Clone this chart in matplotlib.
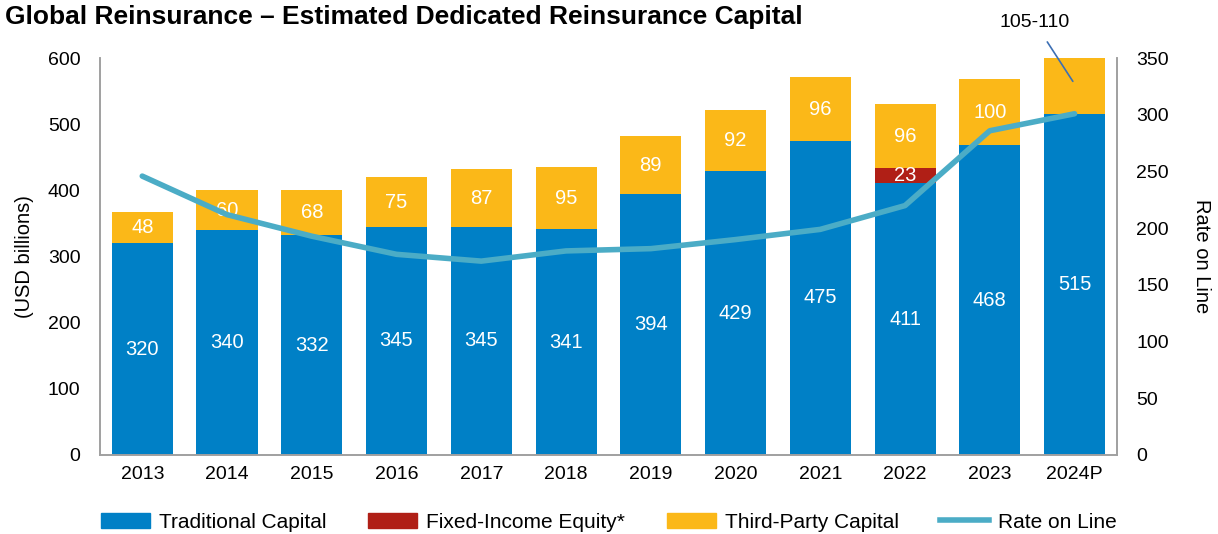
import matplotlib
matplotlib.use("Agg")
import matplotlib.pyplot as plt
import numpy as np
from matplotlib.patches import Patch
from matplotlib.lines import Line2D

plt.rcParams['font.family'] = ['Liberation Sans', 'DejaVu Sans']

years = ["2013", "2014", "2015", "2016", "2017", "2018", "2019", "2020", "2021", "2022", "2023", "2024P"]
traditional = [320, 340, 332, 345, 345, 341, 394, 429, 475, 411, 468, 515]
fixed_income = [0, 0, 0, 0, 0, 0, 0, 0, 0, 23, 0, 0]
third_party = [48, 60, 68, 75, 87, 95, 89, 92, 96, 96, 100, 85]
third_party_labels = ["48", "60", "68", "75", "87", "95", "89", "92", "96", "96", "100", ""]
rate_on_line = [246, 212, 193, 177, 171, 180, 182, 190, 199, 220, 286, 301]

c_blue = "#0080C6"
c_red = "#B01F16"
c_yellow = "#FBB818"
c_line = "#4BACC6"

fig = plt.figure(figsize=(12.18, 5.34), dpi=100)
ax = fig.add_axes([0.082, 0.148, 0.835, 0.743])
ax2 = ax.twinx()

x = np.arange(len(years))
w = 0.72
trad = np.array(traditional)
fi = np.array(fixed_income)
tp = np.array(third_party)

ax.bar(x, trad, width=w, color=c_blue, zorder=2)
ax.bar(x, fi, width=w, bottom=trad, color=c_red, zorder=2)
ax.bar(x, tp, width=w, bottom=trad + fi, color=c_yellow, zorder=2)

lab_fs = 14.5
for i in range(len(x)):
    ax.text(x[i], trad[i] / 2, str(traditional[i]), ha='center', va='center', color='white', fontsize=lab_fs, zorder=3)
    if fi[i] > 0:
        ax.text(x[i], trad[i] + fi[i] / 2, str(fixed_income[i]), ha='center', va='center', color='white', fontsize=lab_fs, zorder=3)
    if third_party_labels[i]:
        ax.text(x[i], trad[i] + fi[i] + tp[i] / 2, third_party_labels[i], ha='center', va='center', color='white', fontsize=lab_fs, zorder=3)

ax.set_xlim(-0.5, 11.5)
ax.set_ylim(0, 600)
ax.set_yticks(range(0, 601, 100))
ax.set_xticks(x)
ax.set_xticklabels(years)
ax.tick_params(axis='both', length=0, labelsize=14, pad=8)
ax.tick_params(axis='y', pad=14)
ax.set_ylabel("(USD billions)", fontsize=14.5, labelpad=10)

ax2.plot(x, rate_on_line, color=c_line, linewidth=4, solid_capstyle='round', zorder=4)
ax2.set_ylim(0, 350)
ax2.set_yticks(range(0, 351, 50))
ax2.tick_params(axis='y', length=0, labelsize=14, pad=14)
ax2.set_ylabel("Rate on Line", fontsize=14.5, rotation=270, labelpad=30)

for a in (ax, ax2):
    a.spines['top'].set_visible(False)
    for s in ('left', 'right', 'bottom'):
        a.spines[s].set_color('#A0A0A0')
        a.spines[s].set_linewidth(1.2)

# annotation for 2024P third-party
ax.annotate("105-110", xy=(10.98, 565), xytext=(10.53, 654), textcoords='data',
            ha='center', va='center', fontsize=14, annotation_clip=False,
            arrowprops=dict(arrowstyle='-', color='#3C6FB4', lw=1.2, shrinkA=7, shrinkB=0))

fig.text(0.004, 0.968, "Global Reinsurance – Estimated Dedicated Reinsurance Capital",
         fontsize=19, fontweight='bold', ha='left', va='center')

handles = [Patch(color=c_blue), Patch(color=c_red), Patch(color=c_yellow),
           Line2D([0], [0], color=c_line, lw=4)]
labels = ["Traditional Capital", "Fixed-Income Equity*", "Third-Party Capital", "Rate on Line"]
fig.legend(handles, labels, loc='center', bbox_to_anchor=(0.5, 0.022), ncol=4, frameon=False,
           fontsize=15, handlelength=2.35, handleheight=0.75, columnspacing=2.0, handletextpad=0.43,
           borderpad=0.1)

fig.savefig("out.png", dpi=100)
